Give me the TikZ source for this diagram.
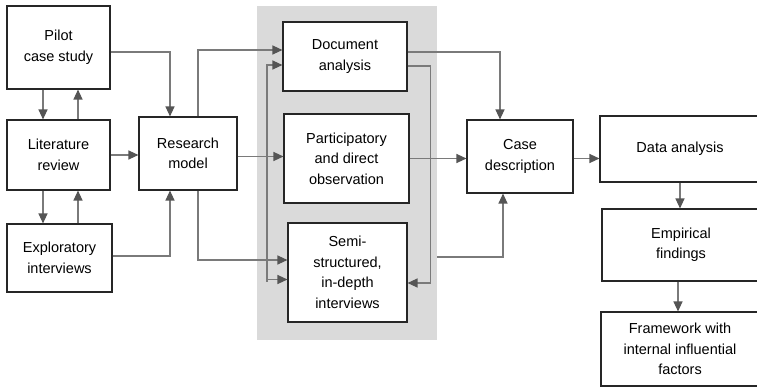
\documentclass[tikz,border=0pt]{standalone}
\usepackage{fontspec}
\setmainfont{Liberation Sans}
\usetikzlibrary{arrows.meta,calc}

\definecolor{linegray}{HTML}{7A7A7A}
\definecolor{tipgray}{HTML}{555555}
\definecolor{areagray}{HTML}{DADADA}

\tikzset{
  box/.style={draw=black!85, line width=1.1pt, fill=white, align=center,
    inner sep=0pt, font=\fontsize{14.5}{20.5}\selectfont},
  arr/.style={draw=linegray, line width=1.2pt,
    -{Triangle[length=10pt,width=9pt,color=tipgray]}},
  ln/.style={draw=linegray, line width=1.2pt}
}

\begin{document}
\begin{tikzpicture}[x=1pt,y=-1pt]
\useasboundingbox (0,0) rectangle (757,387);
% data collection area
\node[fill=areagray, minimum width=180pt, minimum height=334pt, inner sep=0pt] (area) at (347,173) {};
% boxes
\node[box, minimum width=103pt, minimum height=83pt] (pilot) at (58.5,47.5) {Pilot\\case study};
\node[box, minimum width=103pt, minimum height=70pt] (lit) at (58.5,155) {Literature\\review};
\node[box, minimum width=105pt, minimum height=68pt] (expl) at (59.5,258) {Exploratory\\interviews};
\node[box, minimum width=98pt, minimum height=73pt] (model) at (188,153.5) {Research\\model};
\node[box, minimum width=124pt, minimum height=69pt] (doc) at (345,56.5) {Document\\analysis};
\node[box, minimum width=125pt, minimum height=89pt] (part) at (346.5,158.5) {Participatory\\and direct\\observation};
\node[box, minimum width=119pt, minimum height=99pt] (semi) at (347.5,272.5) {Semi-\\structured,\\in-depth\\interviews};
\node[box, minimum width=106pt, minimum height=73pt] (case) at (520,156.5) {Case\\description};
\node[box, minimum width=160pt, minimum height=66pt] (data) at (680,149) {Data analysis};
\node[box, minimum width=158pt, minimum height=72pt] (emp) at (681,245) {Empirical\\findings};
\node[box, minimum width=158pt, minimum height=74pt] (frame) at (680,349) {Framework with\\internal influential\\factors};

% left column
\draw[arr] ([xshift=-15.5pt]pilot.south) -- ([xshift=-15.5pt]lit.north);
\draw[arr] ([xshift=19.5pt]lit.north) -- ([xshift=19.5pt]pilot.south);
\draw[arr] ([xshift=-15.5pt]lit.south) -- ([xshift=-15.5pt]lit.south |- expl.north);
\draw[arr] ([xshift=19.5pt]lit.south |- expl.north) -- ([xshift=19.5pt]lit.south);
\draw[arr] ([yshift=-4.5pt]pilot.east) -| ([xshift=-18pt]model.north);
\draw[arr] (lit.east) -- (lit.east -| model.west);
\draw[arr] ([yshift=2pt]expl.east) -| ([xshift=-18pt]model.south);

% research model to data collection
\draw[arr] ([xshift=10pt]model.north) |- ([yshift=6.5pt]doc.west);
\draw[arr] ([yshift=-3pt]model.east) -- ([yshift=-3pt]model.east -| part.west);
\draw[arr] ([xshift=10pt]model.south) |- ([yshift=12.5pt]semi.west);
\coordinate (fb) at (267,172);
\draw[arr] (fb) |- ([yshift=-8.5pt]doc.west);
\draw[arr] (fb) |- ([yshift=-7pt]semi.west);
\draw[ln] (fb) -- (267,282);

% data collection to case description
\draw[arr] ([yshift=4.5pt]doc.east) -| ([xshift=-20pt]case.north);
\draw[arr] ([yshift=-9.5pt]doc.east) -- ++(23,0) |- ([yshift=-10.5pt]semi.east);
\draw[arr] (part.east) -- (part.east -| case.west);
\draw[arr] (area.east |- 0,257) -| ([xshift=-17pt]case.south);

% analysis
\draw[arr] ([yshift=-2pt]case.east) -- ([yshift=-2pt]case.east -| data.west);
\draw[arr] (data.south) -- (data.south |- emp.north);
\draw[arr] ([xshift=-3pt]emp.south) -- ([xshift=-3pt]emp.south |- frame.north);
\end{tikzpicture}
\end{document}
